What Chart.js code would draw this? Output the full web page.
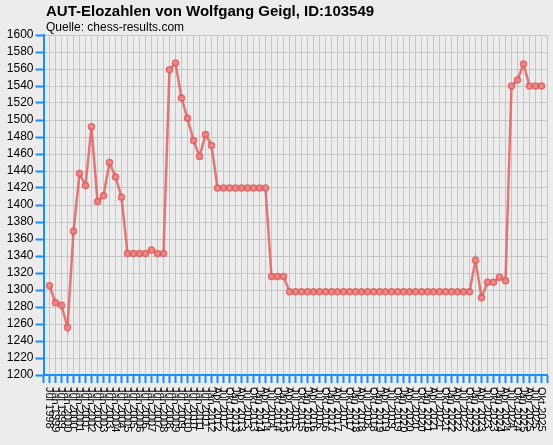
<!DOCTYPE html>
<html>
<head>
<meta charset="utf-8">
<script src="https://cdn.jsdelivr.net/npm/chart.js@4/dist/chart.umd.min.js"></script>
<style>
  html, body { margin: 0; padding: 0; background: #ececec; }
  #wrap { width: 553px; height: 445px; position: relative; }
</style>
</head>
<body>
<div id="wrap"><canvas id="chart"></canvas></div>
<script>
const chartTitle = "AUT-Elozahlen von Wolfgang Geigl, ID:103549";
const chartSubtitle = "Quelle: chess-results.com";

// rating list dates (half-yearly until 2011, quarterly afterwards)
const dateLabels = [
    "Jul 1998",
    "Jan 1999", "Jul 1999", "Jan 2000", "Jul 2000", "Jan 2001", "Jul 2001",
    "Jan 2002", "Jul 2002", "Jan 2003", "Jul 2003", "Jan 2004", "Jul 2004",
    "Jan 2005", "Jul 2005", "Jan 2006", "Jul 2006", "Jan 2007", "Jul 2007",
    "Jan 2008", "Jul 2008", "Jan 2009", "Jul 2009", "Jan 2010", "Jul 2010",
    "Jan 2011", "Jul 2011",
    "Jan 2012", "Apr 2012", "Jul 2012", "Okt 2012",
    "Jan 2013", "Apr 2013", "Jul 2013", "Okt 2013",
    "Jan 2014", "Apr 2014", "Jul 2014", "Okt 2014",
    "Jan 2015", "Apr 2015", "Jul 2015", "Okt 2015",
    "Jan 2016", "Apr 2016", "Jul 2016", "Okt 2016",
    "Jan 2017", "Apr 2017", "Jul 2017", "Okt 2017",
    "Jan 2018", "Apr 2018", "Jul 2018", "Okt 2018",
    "Jan 2019", "Apr 2019", "Jul 2019", "Okt 2019",
    "Jan 2020", "Apr 2020", "Jul 2020", "Okt 2020",
    "Jan 2021", "Apr 2021", "Jul 2021", "Okt 2021",
    "Jan 2022", "Apr 2022", "Jul 2022", "Okt 2022",
    "Jan 2023", "Apr 2023", "Jul 2023", "Okt 2023",
    "Jan 2024", "Apr 2024", "Jul 2024", "Okt 2024",
    "Jan 2025", "Apr 2025", "Jul 2025", "Okt 2025"
];

const eloValues = [
    1305, 1285, 1282, 1256, 1369, 1437, 1423, 1492, 1404, 1411, 1450, 1433, 1409,
    1343, 1343, 1343, 1343, 1347, 1343, 1343,
    1559, 1567, 1526, 1502, 1476, 1457, 1483, 1470,
    1420, 1420, 1420, 1420, 1420, 1420, 1420, 1420, 1420,
    1316, 1316, 1316,
    1298, 1298, 1298, 1298, 1298, 1298, 1298, 1298, 1298, 1298,
    1298, 1298, 1298, 1298, 1298, 1298, 1298, 1298, 1298, 1298,
    1298, 1298, 1298, 1298, 1298, 1298, 1298, 1298, 1298, 1298, 1298,
    1335, 1291, 1309, 1309, 1315, 1311,
    1540, 1547, 1566, 1540, 1540, 1540
];

const yMin = 1200;
const yMax = 1600;
const yStep = 20;

const axisBlue = "#1a8cff";
const gridGrey = "#c6c6c6";
const fontFamily = "'Liberation Sans', Arial, sans-serif";

// title, subtitle and the vertical date labels (read top to bottom)
const extrasPlugin = {
    id: "extras",
    afterDraw(chart) {
        const ctx = chart.ctx;
        const xs = chart.scales.x;
        ctx.save();
        ctx.fillStyle = "#000";
        ctx.textAlign = "left";
        ctx.textBaseline = "alphabetic";
        ctx.font = "bold 15px " + fontFamily;
        ctx.fillText(chartTitle, 46, 16);
        ctx.font = "12px " + fontFamily;
        ctx.fillText(chartSubtitle, 46, 31);

        ctx.font = "11px " + fontFamily;
        ctx.textBaseline = "middle";
        dateLabels.forEach((label, i) => {
            const x = xs.getPixelForValue(i);
            ctx.save();
            ctx.translate(x, xs.top + 12);
            ctx.rotate(Math.PI / 2);
            ctx.fillText(label, 0, 0);
            ctx.restore();
        });
        ctx.restore();
    }
};

new Chart(document.getElementById("chart"), {
    type: "line",
    data: {
        datasets: [{
            label: "Elo",
            data: eloValues.map((v, i) => ({ x: i, y: v })),
            borderColor: "rgba(222, 90, 90, 0.8)",
            backgroundColor: "rgba(234, 130, 130, 0.8)",
            pointBackgroundColor: "rgba(236, 135, 135, 0.85)",
            pointBorderColor: "rgba(222, 90, 90, 0.85)",
            pointRadius: 3,
            pointBorderWidth: 1.5,
            borderWidth: 2.5,
            tension: 0,
            fill: false
        }]
    },
    options: {
        responsive: true,
        maintainAspectRatio: false,
        animation: false,
        layout: { padding: { top: 35, left: 6, right: 5, bottom: 0 } },
        plugins: {
            legend: { display: false },
            tooltip: { enabled: false }
        },
        scales: {
            x: {
                type: "linear",
                min: -1,
                max: dateLabels.length,
                afterFit: s => { s.height = 70; },
                afterBuildTicks: s => {
                    const t = [];
                    for (let i = -1; i <= dateLabels.length; i++) t.push({ value: i });
                    s.ticks = t;
                },
                ticks: { display: false },
                grid: {
                    color: gridGrey,
                    lineWidth: 1,
                    tickColor: axisBlue,
                    tickLength: 8,
                    tickWidth: 2
                },
                border: { color: axisBlue, width: 2 }
            },
            y: {
                min: yMin,
                max: yMax,
                afterFit: s => { s.width = 37.5; },
                ticks: {
                    stepSize: yStep,
                    autoSkip: false,
                    color: "#000",
                    padding: 2,
                    font: { size: 12, family: fontFamily },
                    callback: v => String(v)
                },
                grid: {
                    color: gridGrey,
                    lineWidth: 1,
                    tickColor: axisBlue,
                    tickLength: 8,
                    tickWidth: 2
                },
                border: { color: axisBlue, width: 2 }
            }
        }
    },
    plugins: [extrasPlugin]
});
</script>
</body>
</html>
